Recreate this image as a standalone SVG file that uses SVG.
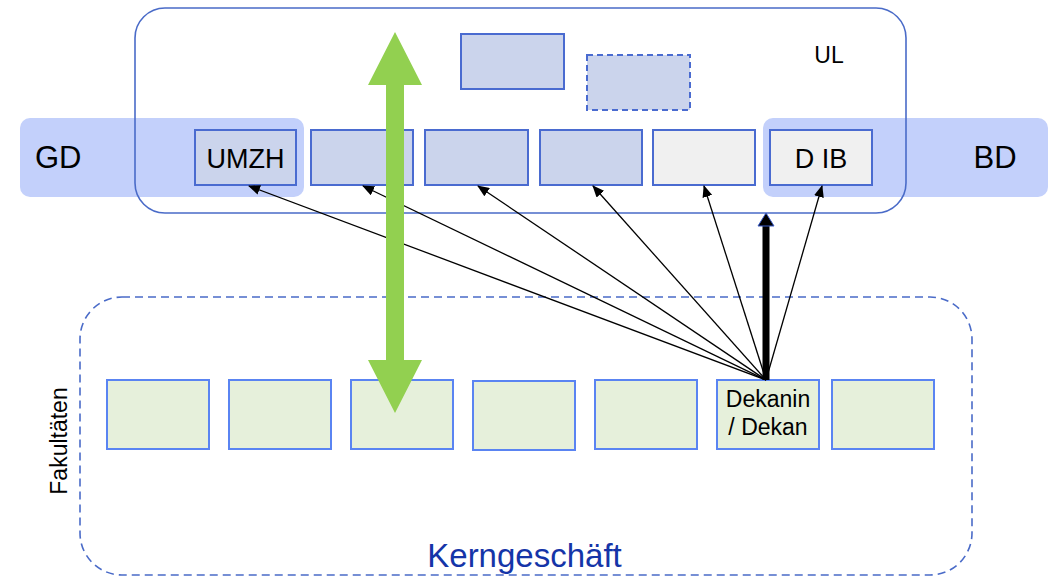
<svg xmlns="http://www.w3.org/2000/svg" width="1056" height="577" viewBox="0 0 1056 577">
  <style>
    .lbl { font-family: "Liberation Sans", Arial, sans-serif; fill: #000; }
    .band { fill: #c3d0fb; }
    .ubox { fill: #cbd4ec; stroke: #4a6bd0; stroke-width: 2; }
    .gbox { fill: #f0f0f0; stroke: #4a6bd0; stroke-width: 2; }
    .fbox { fill: #e6f0db; stroke: #5a84f2; stroke-width: 2; }
    .link { stroke: #000; stroke-width: 1.3; fill: none; marker-end: url(#tip); }
  </style>
  <defs>
    <marker id="tip" viewBox="0 0 12 10" refX="11" refY="5" markerWidth="12" markerHeight="10" markerUnits="userSpaceOnUse" orient="auto">
      <path d="M0,0 L12,5 L0,10 z" fill="#000"/>
    </marker>
  </defs>

  <rect width="1056" height="577" fill="#fff"/>

  <!-- side bands -->
  <g id="gd">
    <rect class="band" x="20" y="118" width="284" height="79" rx="10"/>
    <text class="lbl" x="35" y="168" font-size="31">GD</text>
  </g>
  <g id="bd">
    <rect class="band" x="763" y="118" width="285" height="79" rx="10"/>
    <text class="lbl" x="995" y="168" font-size="31" text-anchor="middle">BD</text>
  </g>

  <!-- UL container -->
  <g id="ul">
    <rect x="135" y="8" width="771" height="205" rx="30" fill="none" stroke="#4a6bc8" stroke-width="1.6"/>
    <text class="lbl" x="829" y="63" font-size="23" text-anchor="middle">UL</text>
  </g>

  <!-- top boxes -->
  <g id="top1"><rect class="ubox" x="461" y="34" width="103" height="55"/></g>
  <g id="top2"><rect class="ubox" x="587" y="55" width="103" height="55" stroke-dasharray="6,4"/></g>

  <!-- UL row -->
  <g id="umzh">
    <rect class="ubox" x="195" y="130" width="101" height="55"/>
    <text class="lbl" x="245.5" y="168" font-size="27" text-anchor="middle">UMZH</text>
  </g>
  <g id="u2"><rect class="ubox" x="311" y="130" width="102" height="55"/></g>
  <g id="u3"><rect class="ubox" x="425" y="130" width="103" height="55"/></g>
  <g id="u4"><rect class="ubox" x="540" y="130" width="102" height="55"/></g>
  <g id="u5"><rect class="gbox" x="653" y="130" width="102" height="55"/></g>
  <g id="dib">
    <rect class="gbox" x="770" y="130" width="102" height="55"/>
    <text class="lbl" x="821" y="168" font-size="27" text-anchor="middle">D IB</text>
  </g>

  <!-- Kerngeschaeft container -->
  <g id="kern">
    <rect x="80" y="297" width="892" height="278" rx="42" fill="none" stroke="#4a6bc8" stroke-width="1.6" stroke-dasharray="8,5"/>
    <text x="524.5" y="567" font-size="33" text-anchor="middle" font-family="Liberation Sans, Arial, sans-serif" fill="#1535a8">Kerngeschäft</text>
    <text class="lbl" transform="translate(67,441) rotate(-90)" font-size="23" text-anchor="middle">Fakultäten</text>
  </g>

  <!-- faculty row -->
  <g id="f1"><rect class="fbox" x="107" y="380" width="102" height="69"/></g>
  <g id="f2"><rect class="fbox" x="229" y="380" width="102" height="69"/></g>
  <g id="f3"><rect class="fbox" x="351" y="380" width="102" height="69"/></g>
  <g id="f4"><rect class="fbox" x="473" y="381" width="102" height="69"/></g>
  <g id="f5"><rect class="fbox" x="595" y="380" width="102" height="69"/></g>
  <g id="dekan">
    <rect class="fbox" x="717" y="380" width="102" height="69"/>
    <text class="lbl" x="768" y="407" font-size="23" text-anchor="middle">Dekanin</text>
    <text class="lbl" x="768" y="435" font-size="23" text-anchor="middle">/ Dekan</text>
  </g>
  <g id="f7"><rect class="fbox" x="832" y="380" width="102" height="69"/></g>

  <!-- connectors -->
  <g id="connectors">
    <line class="link" x1="766" y1="380" x2="249" y2="186"/>
    <line class="link" x1="766" y1="380" x2="363" y2="186"/>
    <line class="link" x1="766" y1="380" x2="478" y2="186"/>
    <line class="link" x1="766" y1="380" x2="593" y2="186"/>
    <line class="link" x1="766" y1="380" x2="704" y2="186"/>
    <line class="link" x1="766" y1="380" x2="822" y2="186"/>
    <!-- thick reporting line to UL -->
    <line x1="766" y1="380" x2="766" y2="224" stroke="#000" stroke-width="7"/>
    <path d="M758,226 L766,213 L774,226 z" fill="#000" stroke="#3a5cc8" stroke-width="1"/>
    <!-- green double arrow -->
    <path d="M395,32 L422,85 L404,85 L404,360 L422,360 L395,413 L368,360 L386,360 L386,85 L368,85 z" fill="#92d050"/>
  </g>
</svg>
